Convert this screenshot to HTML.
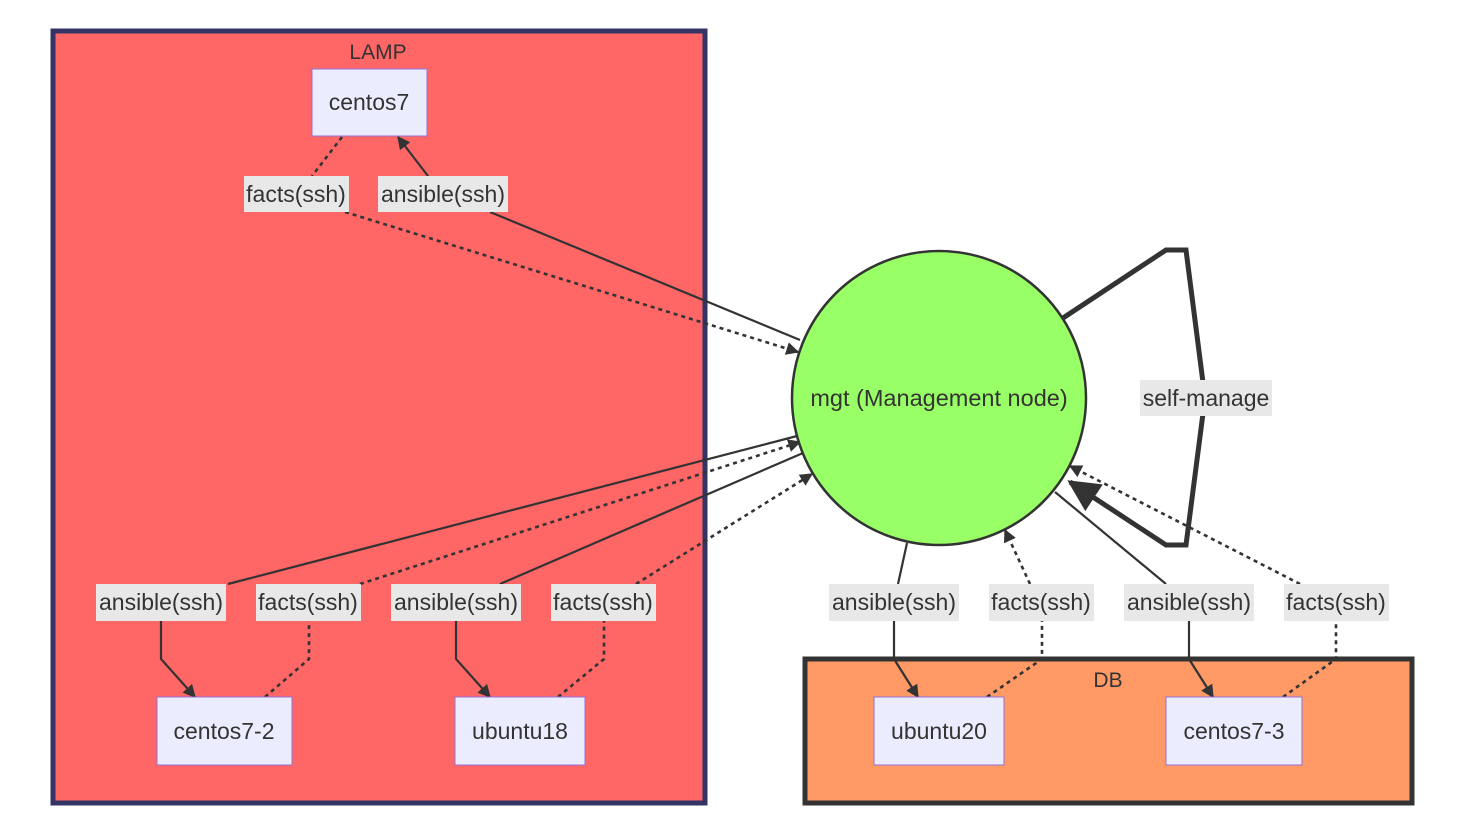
<!DOCTYPE html>
<html><head><meta charset="utf-8"><style>
html,body{margin:0;padding:0;background:#fff;}
svg text{font-family:"Liberation Sans",Arial,sans-serif;fill:#333;}
</style></head><body>
<svg width="1475" height="829" viewBox="0 0 1475 829" xmlns="http://www.w3.org/2000/svg">
<defs>
<marker id="a" viewBox="0 0 10 10" refX="9" refY="5" markerWidth="13" markerHeight="13" orient="auto" markerUnits="userSpaceOnUse"><path d="M0,0 L10,5 L0,10z" fill="#333"/></marker>
<marker id="b" viewBox="0 0 10 10" refX="9" refY="5" markerWidth="32" markerHeight="32" orient="auto" markerUnits="userSpaceOnUse"><path d="M0,0 L10,5 L0,10z" fill="#333"/></marker>
</defs>
<rect x="53" y="31" width="652" height="772" fill="#ff6666" stroke="#333366" stroke-width="5"/>
<text x="378" y="59" font-size="21" text-anchor="middle">LAMP</text>
<rect x="805" y="659" width="607" height="144" fill="#ff9966" stroke="#333" stroke-width="5"/>
<text x="1108" y="687" font-size="21" text-anchor="middle">DB</text>

<g fill="none" stroke="#333" stroke-width="2.2">
<path d="M800,340 L490,212" /><path d="M428,176 L398,137" marker-end="url(#a)"/>
<path d="M342,137 L312,176" stroke-dasharray="4,4" stroke-width="2.6"/><path d="M345,212 L798,352" stroke-dasharray="4,4" stroke-width="2.6" marker-end="url(#a)"/>
<path d="M797,436 L228,584"/><path d="M161,621 L161,659 L195,697" marker-end="url(#a)"/>
<path d="M265,697 L309,659 L309,621" stroke-dasharray="4,4" stroke-width="2.6"/><path d="M360,584 L800,442" stroke-dasharray="4,4" stroke-width="2.6" marker-end="url(#a)"/>
<path d="M803,453 L500,584"/><path d="M456,621 L456,659 L490,697" marker-end="url(#a)"/>
<path d="M558,697 L604,659 L604,621" stroke-dasharray="4,4" stroke-width="2.6"/><path d="M636,584 L812,474" stroke-dasharray="4,4" stroke-width="2.6" marker-end="url(#a)"/>
<path d="M907,543 L898,584"/><path d="M894,621 L894,659 L918,697" marker-end="url(#a)"/>
<path d="M987,697 L1042,659 L1042,621" stroke-dasharray="4,4" stroke-width="2.6"/><path d="M1030,584 L1005,530" stroke-dasharray="4,4" stroke-width="2.6" marker-end="url(#a)"/>
<path d="M1055,492 L1166,584"/><path d="M1189,621 L1189,659 L1213,697" marker-end="url(#a)"/>
<path d="M1283,697 L1336,659 L1336,621" stroke-dasharray="4,4" stroke-width="2.6"/><path d="M1300,584 L1070,466" stroke-dasharray="4,4" stroke-width="2.6" marker-end="url(#a)"/>
<path d="M1063,318 L1166,250 L1186,250 L1205,398 L1186,545 L1166,545 L1070,482" stroke-width="5" marker-end="url(#b)"/>
</g>

<circle cx="939" cy="398" r="147" fill="#99ff66" stroke="#333" stroke-width="2.5"/>
<text x="939" y="406" font-size="23.5" text-anchor="middle">mgt (Management node)</text>

<g fill="#ececff" stroke="#9370db" stroke-width="1">
<rect x="312" y="69" width="115" height="67"/>
<rect x="157" y="697" width="135" height="68"/>
<rect x="455" y="697" width="130" height="68"/>
<rect x="874" y="697" width="130" height="68"/>
<rect x="1166" y="697" width="136" height="68"/>
</g>
<g font-size="23" text-anchor="middle">
<text x="369" y="110">centos7</text>
<text x="224" y="739">centos7-2</text>
<text x="520" y="739">ubuntu18</text>
<text x="939" y="739">ubuntu20</text>
<text x="1234" y="739">centos7-3</text>
</g>

<g fill="#e8e8e8">
<rect x="244" y="176" width="105" height="36"/><rect x="378" y="176" width="130" height="36"/>
<rect x="96" y="584" width="130" height="37"/><rect x="256" y="584" width="105" height="37"/>
<rect x="391" y="584" width="130" height="37"/><rect x="551" y="584" width="105" height="37"/>
<rect x="829" y="584" width="130" height="37"/><rect x="989" y="584" width="105" height="37"/>
<rect x="1124" y="584" width="130" height="37"/><rect x="1284" y="584" width="105" height="37"/>
<rect x="1140" y="380" width="132" height="36"/>
</g>
<g font-size="23" text-anchor="middle">
<text x="296" y="202">facts(ssh)</text><text x="443" y="202">ansible(ssh)</text>
<text x="161" y="610">ansible(ssh)</text><text x="308" y="610">facts(ssh)</text>
<text x="456" y="610">ansible(ssh)</text><text x="603" y="610">facts(ssh)</text>
<text x="894" y="610">ansible(ssh)</text><text x="1041" y="610">facts(ssh)</text>
<text x="1189" y="610">ansible(ssh)</text><text x="1336" y="610">facts(ssh)</text>
<text x="1206" y="406">self-manage</text>
</g>
</svg>
</body></html>
